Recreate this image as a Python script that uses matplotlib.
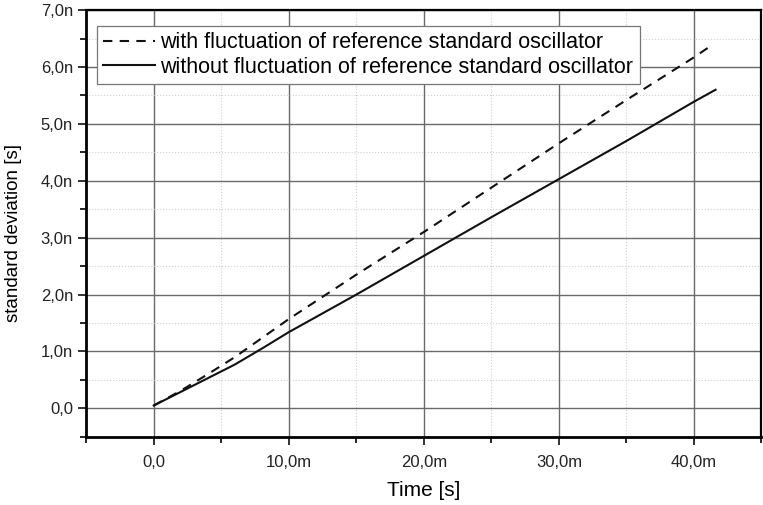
#!/usr/bin/env python3
"""Standard deviation vs. time, with and without reference oscillator fluctuation."""

import matplotlib

matplotlib.use("Agg")
import matplotlib.pyplot as plt
from matplotlib.ticker import FuncFormatter, MultipleLocator

plt.rcParams["font.family"] = ["Liberation Sans", "DejaVu Sans"]

# time in ms, deviation in ns
T_WITH = [0, 1, 2, 4, 6, 10, 15, 20, 25, 30, 35, 40, 41.3]
SD_WITH = [0.05, 0.18, 0.31, 0.60, 0.90, 1.57, 2.35, 3.10, 3.88, 4.66, 5.42, 6.17, 6.38]

T_WITHOUT = [0, 1, 2, 4, 6, 8, 10, 15, 20, 25, 30, 35, 40, 41.6]
SD_WITHOUT = [0.05, 0.17, 0.29, 0.53, 0.77, 1.05, 1.34, 2.00, 2.68, 3.36, 4.03, 4.70, 5.39, 5.60]

LABEL_WITH = "with fluctuation of reference standard oscillator"
LABEL_WITHOUT = "without fluctuation of reference standard oscillator"


def fmt(suffix):
    def _f(v, _pos):
        if abs(v) < 1e-9:
            return "0,0"
        return f"{v:.1f}{suffix}".replace(".", ",")
    return FuncFormatter(_f)


def main():
    fig = plt.figure(figsize=(7.63, 5.05), dpi=100)
    ax = fig.add_axes([0.113, 0.135, 0.885, 0.845])

    ax.plot(T_WITH, SD_WITH, color="#111111", lw=1.5, ls=(0, (4.5, 3.5)), label=LABEL_WITH)
    ax.plot(T_WITHOUT, SD_WITHOUT, color="#111111", lw=1.5, label=LABEL_WITHOUT)

    ax.set_xlim(-5, 45)
    ax.set_ylim(-0.5, 7.0)
    ax.xaxis.set_major_locator(MultipleLocator(10))
    ax.xaxis.set_minor_locator(MultipleLocator(5))
    ax.yaxis.set_major_locator(MultipleLocator(1))
    ax.yaxis.set_minor_locator(MultipleLocator(0.5))
    ax.xaxis.set_major_formatter(fmt("m"))
    ax.yaxis.set_major_formatter(fmt("n"))

    ax.grid(which="major", color="#6a6a6a", lw=1.0)
    ax.grid(which="minor", color="#d0d0d0", lw=0.8, ls=":")
    ax.set_axisbelow(True)

    for side in ("left", "bottom"):
        ax.spines[side].set_linewidth(2.0)
    for side in ("top", "right"):
        ax.spines[side].set_linewidth(1.6)

    ax.tick_params(which="major", direction="out", length=6, width=1.3,
                   labelsize=12, colors="#222222")
    ax.tick_params(axis="x", which="major", pad=7)
    ax.tick_params(which="minor", direction="out", length=4, width=1.2)

    ax.set_xlabel("Time [s]", fontsize=15, labelpad=8)
    ax.set_ylabel("standard deviation [s]", fontsize=13.5)
    ax.yaxis.set_label_coords(-0.095, 0.478)

    leg = ax.legend(loc="upper left", bbox_to_anchor=(0.016, 0.963), fontsize=15.5,
                    handlelength=2.4, handletextpad=0.25, borderpad=0.3,
                    labelspacing=0.15, fancybox=False, framealpha=1.0,
                    borderaxespad=0.0)
    leg.get_frame().set_edgecolor("#777777")
    leg.get_frame().set_linewidth(0.9)

    fig.savefig("out.png", dpi=100)


if __name__ == "__main__":
    main()
